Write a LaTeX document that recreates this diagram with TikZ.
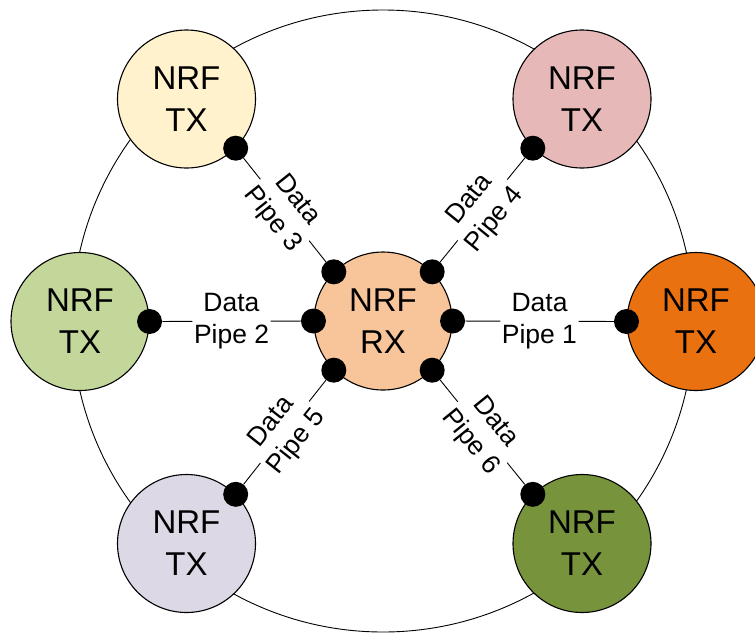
\documentclass[tikz,border=0pt]{standalone}
\usepackage{fontspec}
\setmainfont{Liberation Sans}
\definecolor{cyellow}{HTML}{FFF2CC}
\definecolor{cpink}{HTML}{E6B9B8}
\definecolor{clgreen}{HTML}{C4D79B}
\definecolor{corange}{HTML}{E9710F}
\definecolor{cpeach}{HTML}{F8C49A}
\definecolor{cpurple}{HTML}{DDD8E5}
\definecolor{cdgreen}{HTML}{77933C}
\begin{document}
\begin{tikzpicture}[x=1pt,y=-1pt,
  dev/.style={circle,draw=black,line width=1.1pt,minimum size=138pt,inner sep=0pt,align=center,font=\fontsize{33}{42}\selectfont},
  dot/.style={circle,fill=black,minimum size=25pt,inner sep=0pt},
  lbl/.style={fill=white,inner sep=1.5pt,align=center,font=\fontsize{26.5}{32}\selectfont,sloped},
  pipe/.style={line width=0.9pt}]
\useasboundingbox (0,0) rectangle (755,633);
\clip (0,0) rectangle (755,633);
\draw[line width=0.9pt] (383,321) circle[radius=311];
% devices
\node[dev,fill=cpeach]  (rx) at (383,321) {NRF\\RX};
\node[dev,fill=cyellow] (t3) at (186.5,99) {NRF\\TX};
\node[dev,fill=cpink]   (t4) at (582,99) {NRF\\TX};
\node[dev,fill=clgreen] (t2) at (80,321.5) {NRF\\TX};
\node[dev,fill=corange] (t1) at (696,321.5) {NRF\\TX};
\node[dev,fill=cpurple] (t5) at (186.5,543.5) {NRF\\TX};
\node[dev,fill=cdgreen] (t6) at (582,543.5) {NRF\\TX};
% dots
\node[dot] (r1) at (rx.0) {};
\node[dot] (r2) at (rx.180) {};
\node[dot] (r3) at (rx.135) {};
\node[dot] (r4) at (rx.45) {};
\node[dot] (r5) at (rx.-135) {};
\node[dot] (r6) at (rx.-45) {};
\node[dot] (d1) at (t1.180) {};
\node[dot] (d2) at (t2.0) {};
\node[dot] (d3) at (t3.-45) {};
\node[dot] (d4) at (t4.-135) {};
\node[dot] (d5) at (t5.45) {};
\node[dot] (d6) at (t6.135) {};
% pipes
\draw[pipe] (r1) -- node[lbl] {Data\\Pipe 1} (d1);
\draw[pipe] (d2) -- node[lbl] {Data\\Pipe 2} (r2);
\draw[pipe] (d3) -- node[lbl] {Data\\Pipe 3} (r3);
\draw[pipe] (r4) -- node[lbl] {Data\\Pipe 4} (d4);
\draw[pipe] (d5) -- node[lbl] {Data\\Pipe 5} (r5);
\draw[pipe] (r6) -- node[lbl] {Data\\Pipe 6} (d6);
\end{tikzpicture}
\end{document}
